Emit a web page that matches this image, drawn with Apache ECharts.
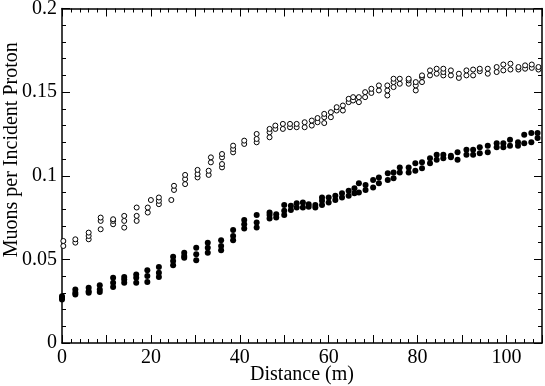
<!DOCTYPE html>
<html>
<head>
<meta charset="utf-8">
<script src="https://cdn.jsdelivr.net/npm/echarts@6/dist/echarts.min.js"></script>
<style>
  html, body { margin: 0; padding: 0; background: #fff; }
  #chart { width: 545px; height: 386px; }
</style>
</head>
<body>
<div id="chart"></div>
<script>
// open circles (upper set)
const openX = [
  0.3, 0.3, 3, 3, 6, 6, 6, 8.7, 8.7, 8.7, 11.5, 11.5, 11.5, 14, 14, 14,
  16.8, 16.8, 16.8, 19.3, 19.3, 20, 21.8, 21.8, 21.8, 24.6, 25.2, 25.2,
  27.7, 27.7, 27.7, 30.5, 30.5, 30.5, 33, 33, 33.5, 33.5, 36, 36, 36, 36,
  38.5, 38.5, 38.5, 41, 41, 43.8, 43.8, 43.8, 46.7, 46.7, 46.7, 48, 48,
  49.7, 49.7, 51.3, 51.3, 52.8, 52.8, 54.6, 54.6, 56.2, 56.2, 57.5, 57.5,
  59, 59, 59, 60.5, 60.5, 61.8, 61.8, 63.2, 63.2, 64.5, 64.5, 65.5, 65.5,
  66.8, 66.8, 68.2, 68.2, 69.6, 69.6, 71.3, 71.3, 73.2, 73.2, 73.2,
  74.6, 74.6, 74.6, 76, 76, 78, 78, 78, 79.6, 79.6, 79.6, 81, 81, 81,
  82.8, 82.8, 84.3, 84.3, 85.8, 85.8, 85.8, 87.5, 87.5, 89.3, 89.3, 91, 91,
  92.5, 92.5, 94, 94, 95.8, 95.8, 97.8, 97.8, 99.3, 99.3, 100.9, 100.9,
  102.7, 102.7, 104.2, 104.2, 105.7, 105.7, 107.2, 107.2
];
const openY = [
  0.058, 0.061, 0.060, 0.062, 0.062, 0.064, 0.066, 0.068, 0.073, 0.075, 0.071, 0.073, 0.074, 0.069, 0.073, 0.076,
  0.073, 0.076, 0.081, 0.078, 0.081, 0.0855, 0.083, 0.085, 0.087, 0.0855, 0.0915, 0.094,
  0.095, 0.098, 0.1005, 0.099, 0.101, 0.1035, 0.1005, 0.103, 0.108, 0.111, 0.105, 0.107, 0.111, 0.113,
  0.114, 0.116, 0.118, 0.119, 0.121, 0.120, 0.122, 0.125, 0.123, 0.126, 0.128, 0.128, 0.130,
  0.128, 0.131, 0.129, 0.131, 0.129, 0.131, 0.129, 0.132, 0.130, 0.133, 0.132, 0.1345,
  0.1315, 0.135, 0.137, 0.135, 0.138, 0.139, 0.141, 0.139, 0.142, 0.144, 0.146, 0.145, 0.147,
  0.144, 0.147, 0.147, 0.150, 0.1495, 0.152, 0.151, 0.154, 0.148, 0.151, 0.154,
  0.153, 0.156, 0.158, 0.155, 0.158, 0.155, 0.157, 0.158, 0.151, 0.154, 0.156, 0.156, 0.159, 0.160,
  0.160, 0.163, 0.161, 0.164, 0.160, 0.162, 0.164, 0.160, 0.163, 0.1585, 0.161, 0.160, 0.163,
  0.160, 0.1635, 0.1625, 0.164, 0.161, 0.164, 0.162, 0.165, 0.163, 0.1665, 0.1635, 0.167,
  0.1635, 0.165, 0.164, 0.166, 0.1645, 0.1665, 0.1635, 0.165
];

// filled circles (lower set)
const filledX = [
  0, 0, 0, 3, 3, 3, 6, 6, 6, 8.5, 8.5, 8.5, 11.5, 11.5, 11.5, 14, 14, 14,
  16.7, 16.7, 16.7, 19.2, 19.2, 19.2, 21.8, 21.8, 21.8, 25, 25, 25,
  27.5, 27.5, 27.5, 30.2, 30.2, 30.2, 32.8, 32.8, 32.8, 35.8, 35.8, 35.8,
  38.5, 38.5, 38.5, 41, 41, 41, 43.8, 43.8, 43.8, 46.7, 46.7, 46.7, 48.2, 48.2,
  50, 50, 50, 51.5, 51.5, 52.8, 52.8, 54.2, 54.2, 55.5, 55.5, 57, 57,
  58.5, 58.5, 58.5, 60, 60, 61.5, 61.5, 63, 63, 64.5, 64.5, 65.8, 65.8,
  66.8, 66.8, 68.3, 68.3, 70, 70, 71.3, 71.3, 73.3, 73.3, 74.6, 74.6, 76, 76,
  78, 78, 79.5, 79.5, 81, 81, 82.8, 82.8, 84.3, 84.3, 85.8, 85.8, 87.5, 87.5,
  89, 89, 91, 91, 92.5, 92.5, 94, 94, 95.8, 95.8, 97.8, 97.8, 99.3, 99.3,
  100.8, 100.8, 102.6, 102.6, 104, 104, 105.6, 105.6, 107, 107
];
const filledY = [
  0.026, 0.027, 0.028, 0.029, 0.030, 0.032, 0.030, 0.031, 0.033, 0.0305, 0.032, 0.0345, 0.0335, 0.036, 0.039, 0.036, 0.038, 0.0395,
  0.036, 0.039, 0.041, 0.0365, 0.040, 0.0435, 0.0395, 0.042, 0.0455, 0.0465, 0.049, 0.0515,
  0.051, 0.052, 0.054, 0.0495, 0.053, 0.057, 0.054, 0.057, 0.060, 0.0555, 0.058, 0.0615,
  0.0615, 0.064, 0.0675, 0.0685, 0.071, 0.0735, 0.069, 0.072, 0.0765, 0.0745, 0.0765, 0.078, 0.075, 0.077,
  0.0765, 0.079, 0.0825, 0.0795, 0.082, 0.081, 0.0835, 0.081, 0.084, 0.0815, 0.083, 0.081, 0.0825,
  0.0825, 0.085, 0.087, 0.084, 0.087, 0.0855, 0.088, 0.087, 0.0895, 0.088, 0.091, 0.0895, 0.0925,
  0.090, 0.0955, 0.0915, 0.0945, 0.093, 0.0975, 0.0955, 0.099, 0.0975, 0.1015, 0.0985, 0.102, 0.102, 0.105,
  0.102, 0.105, 0.103, 0.1075, 0.1045, 0.108, 0.1075, 0.1105, 0.1095, 0.1125, 0.1105, 0.1125, 0.111, 0.112,
  0.1095, 0.114, 0.1125, 0.1155, 0.1125, 0.1155, 0.1135, 0.117, 0.114, 0.118, 0.117, 0.1195, 0.117, 0.1195,
  0.118, 0.1215, 0.118, 0.120, 0.1195, 0.1245, 0.120, 0.1255, 0.1225, 0.1255
];

const xTitle = 'Distance (m)';
const yTitle = 'Muons per Incident Proton';

function renderChart(elementId) {
    const chartDom = document.getElementById(elementId);
    if (!chartDom) return;
    const myChart = echarts.init(chartDom);

    const font = 'Liberation Serif';
    const lineStyle = { color: '#000', width: 1.5 };
    const tickStyle = { color: '#000', width: 1 };

    const xBase = {
        type: 'value',
        min: 0,
        max: 108,
        interval: 10,
        splitLine: { show: false },
        axisLine: { show: true, onZero: false, lineStyle: lineStyle },
        axisTick: { show: true, inside: true, length: 8, lineStyle: tickStyle },
        minorTick: { show: true, splitNumber: 5, length: 4, lineStyle: tickStyle }
    };
    const yBase = {
        type: 'value',
        min: 0,
        max: 0.2,
        interval: 0.05,
        splitLine: { show: false },
        axisLine: { show: true, onZero: false, lineStyle: lineStyle },
        axisTick: { show: true, inside: true, length: 8, lineStyle: tickStyle },
        minorTick: { show: true, splitNumber: 5, length: 4, lineStyle: tickStyle }
    };

    const option = {
        backgroundColor: '#fff',
        animation: false,
        grid: { left: 62, right: 3, top: 8.5, bottom: 43, outerBoundsMode: 'none' },
        xAxis: [
            Object.assign({}, xBase, {
                position: 'bottom',
                name: xTitle,
                nameLocation: 'middle',
                nameGap: 22,
                nameMoveOverlap: false,
                nameTextStyle: { fontFamily: font, fontSize: 20, color: '#000', verticalAlign: 'top' },
                axisLabel: {
                    fontFamily: font, fontSize: 20, color: '#000', margin: 5,
                    formatter: v => (v % 20 === 0 ? String(v) : '')
                }
            }),
            Object.assign({}, xBase, {
                position: 'top',
                axisLabel: { show: false }
            })
        ],
        yAxis: [
            Object.assign({}, yBase, {
                position: 'left',
                name: yTitle,
                nameLocation: 'middle',
                nameGap: 40,
                nameMoveOverlap: false,
                nameTextStyle: { fontFamily: font, fontSize: 20, color: '#000', padding: [0, 0, 0, 52] },
                axisLabel: { fontFamily: font, fontSize: 20, color: '#000', margin: 5 }
            }),
            Object.assign({}, yBase, {
                position: 'right',
                axisLabel: { show: false }
            })
        ],
        series: [
            {
                name: 'open',
                type: 'scatter',
                symbol: 'circle',
                symbolSize: 5,
                itemStyle: { color: '#fff', borderColor: '#000', borderWidth: 1, opacity: 1 },
                data: openX.map((x, i) => [x, openY[i]])
            },
            {
                name: 'filled',
                type: 'scatter',
                symbol: 'circle',
                symbolSize: 6,
                itemStyle: { color: '#000', opacity: 1 },
                data: filledX.map((x, i) => [x, filledY[i]])
            }
        ]
    };

    myChart.setOption(option);

    window.addEventListener('resize', () => {
        myChart.resize();
    });
}

renderChart('chart');
</script>
</body>
</html>
